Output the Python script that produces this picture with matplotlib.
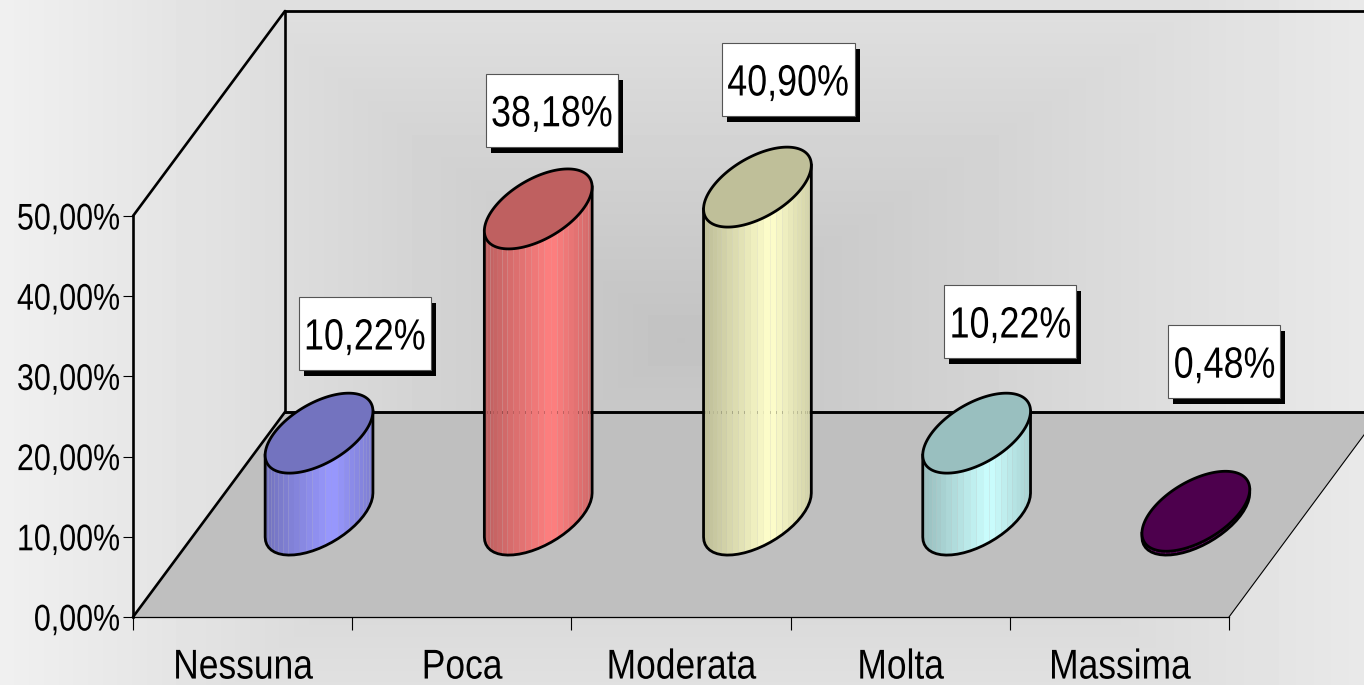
import numpy as np
import matplotlib
matplotlib.use("Agg")
import matplotlib.pyplot as plt
from matplotlib.collections import PolyCollection
from matplotlib.patches import Polygon, Rectangle
from matplotlib.patheffects import AbstractPathEffect
from matplotlib.transforms import IdentityTransform, Affine2D
from matplotlib.ticker import FuncFormatter

categories = ["Nessuna", "Poca", "Moderata", "Molta", "Massima"]
values = [10.22, 38.18, 40.90, 10.22, 0.48]
value_labels = ["10,22%", "38,18%", "40,90%", "10,22%", "0,48%"]
y_ticks = [0, 10, 20, 30, 40, 50]

side_colors = ["#9999FF", "#FF8080", "#FFFFCC", "#CCFFFF", "#660066"]
label_offsets_px = [(46, -99), (14, -98), (31, -107), (34, -111), (29, -149)]
label_widths_px = [132, 132, 133, 132, 112]

W, H = 1364, 685
plt.rcParams["font.family"] = ["Liberation Sans", "DejaVu Sans"]


class CondenseX(AbstractPathEffect):
    """Draw text narrower, as Arial Narrow would be; optionally pin its right edge."""

    def __init__(self, sx, right_px=None):
        super().__init__()
        self.sx = sx
        self.right_px = right_px

    def draw_path(self, renderer, gc, tpath, affine, rgbFace=None):
        ext = tpath.get_extents(affine)
        if self.right_px is None:
            a, target = 0.5 * (ext.x0 + ext.x1), 0.5 * (ext.x0 + ext.x1)
        else:
            a, target = ext.x1, self.right_px
        new = affine + Affine2D().translate(-a, 0).scale(self.sx, 1).translate(target, 0)
        renderer.draw_path(gc, tpath, new, rgbFace)


fig = plt.figure(figsize=(W / 100, H / 100), dpi=100)

# Background gradient (rectangular contours around the middle of the picture)
bg = fig.add_axes([0, 0, 1, 1], zorder=-1)
px, py = np.meshgrid(np.arange(W), np.arange(H))
gx = np.where(px < 680, 46 * (680 - px) / 680.0, 39 * (px - 680) / 684.0)
gy = 30 * np.abs(py - 340) / 340.0
gray = (0xC2 + np.maximum(gx, gy)) / 255
bg.imshow(gray, cmap="gray", vmin=0, vmax=1, aspect="auto", extent=(0, W, H, 0))
bg.axis("off")

# Front plane of the chart: value and category scales
L, R, B, T = 133, 1229, 617, 216
ax = fig.add_axes([L / W, 1 - B / H, (R - L) / W, (B - T) / H])
ax.set_xlim(0, len(categories))
ax.set_ylim(0, 50)
ax.patch.set_visible(False)

DX = 152 / ((R - L) / 5)      # depth offset in category units
DY = 205 / ((B - T) / 50)     # depth offset in value units
YMAX, XMAX = 50, len(categories)


def project(x, depth, y):
    return x + depth * DX, y + depth * DY


# Floor and walls
floor = [project(0, 0, 0), project(XMAX, 0, 0), project(XMAX, 1, 0), project(0, 1, 0)]
ax.add_patch(Polygon(floor, closed=True, fc="#BFBFBF", ec="none", zorder=1, clip_on=False))
line_kw = dict(color="black", solid_capstyle="round", clip_on=False, zorder=2)
for a, b, lw in [
    (project(0, 0, YMAX), project(0, 1, YMAX), 1.9),
    (project(0, 1, YMAX), project(XMAX, 1, YMAX), 2.0),
    (project(0, 1, 0), project(0, 1, YMAX), 1.9),
    (project(0, 1, 0), project(XMAX, 1, 0), 2.1),
    (project(0, 0, 0), project(0, 1, 0), 1.9),
    (project(XMAX, 0, 0), project(XMAX, 1, 0), 0.8),
]:
    ax.plot([a[0], b[0]], [a[1], b[1]], lw=lw, **line_kw)

# Cylinders
RA = 45 / ((R - L) / 5)     # horizontal radius, category units
RB = 0.195                  # radius along the depth axis, fraction of depth
CENTER_DEPTH = 0.497
t_all = np.linspace(0, 2 * np.pi, 241)


def ring(cx, y, t):
    return (cx + 0.5 * DX + 0.002 + RA * np.cos(t) + RB * DX * np.sin(t),
            y + CENTER_DEPTH * DY + RB * DY * np.sin(t))


# parameter at which the projected ellipse has its left / right silhouette
t_right = np.arctan2(RB * DX, RA)
t_left = t_right - np.pi
N_STRIPS = 26

for i, (v, c) in enumerate(zip(values, side_colors)):
    cx = i + 0.5
    base = np.array(matplotlib.colors.to_rgb(c))
    ts = np.linspace(t_left, t_right, N_STRIPS + 1)
    xb, yb = ring(cx, 0, ts)
    xt, yt = ring(cx, v, ts)
    x0, x1 = xb.min(), xb.max()
    verts, cols = [], []
    for k in range(N_STRIPS):
        verts.append([(xb[k], yb[k]), (xb[k + 1], yb[k + 1]), (xt[k + 1], yt[k + 1]), (xt[k], yt[k])])
        u = (0.5 * (xb[k] + xb[k + 1]) - x0) / (x1 - x0)
        cols.append(base * np.interp(u, [0, 0.62, 1], [0.74, 1.0, 0.82]))
    ax.add_collection(PolyCollection(verts, facecolors=cols, edgecolors="none",
                                     zorder=3 + i, clip_on=False))
    # outline of the side
    ox = np.concatenate(([xt[0]], xb, [xt[-1]]))
    oy = np.concatenate(([yt[0]], yb, [yt[-1]]))
    ax.plot(ox, oy, color="black", lw=2.0, clip_on=False, zorder=3 + i + 0.1,
            solid_joinstyle="round")
    # top face
    ex, ey = ring(cx, v, t_all)
    ax.add_patch(Polygon(np.column_stack([ex, ey]), closed=True, fc=base * 0.75, ec="black",
                         lw=2.0, zorder=3 + i + 0.2, clip_on=False))

# Data labels
for i, (v, txt, off, bw) in enumerate(zip(values, value_labels, label_offsets_px, label_widths_px)):
    cxd, cyd = ax.transData.transform(project(i + 0.5, 0.5, v))
    cxd += off[0]
    cyd -= off[1]
    bh = 73
    ax.add_artist(Rectangle((cxd - bw / 2 + 5, cyd - bh / 2 - 6), bw, bh, fc="black", ec="none",
                            transform=IdentityTransform(), zorder=20, clip_on=False))
    ax.add_artist(Rectangle((cxd - bw / 2, cyd - bh / 2), bw, bh, fc="white", ec="#555555", lw=0.8,
                            transform=IdentityTransform(), zorder=21, clip_on=False))
    t = ax.text(cxd, cyd, txt, transform=IdentityTransform(), ha="center", va="center_baseline",
                fontsize=31.5, color="black", zorder=22, clip_on=False)
    t.set_path_effects([CondenseX(0.82)])

# Axes
for s in ["top", "right"]:
    ax.spines[s].set_visible(False)
ax.spines["left"].set_linewidth(1.9)
ax.spines["bottom"].set_linewidth(0.9)
ax.spines["left"].set_zorder(2)
ax.spines["bottom"].set_zorder(2)
ax.set_yticks(y_ticks)
ax.yaxis.set_major_formatter(FuncFormatter(lambda v, _: f"{v:.2f}".replace(".", ",") + "%"))
ax.tick_params(axis="y", length=7.2, width=0.8, pad=77, labelsize=26.7)
for lab in ax.get_yticklabels():
    lab.set_ha("left")
    lab.set_path_effects([CondenseX(0.82, right_px=119)])
ax.set_xticks(np.arange(len(categories) + 1))
ax.set_xticklabels([])
ax.set_xticks(np.arange(len(categories)) + 0.5, minor=True)
ax.set_xticklabels(categories, minor=True)
ax.tick_params(axis="x", which="major", length=9.5, width=0.8)
ax.tick_params(axis="x", which="minor", length=0, pad=22, labelsize=30)
for lab in ax.get_xticklabels(minor=True):
    lab.set_path_effects([CondenseX(0.85)])

fig.savefig("out.png", dpi=100)
